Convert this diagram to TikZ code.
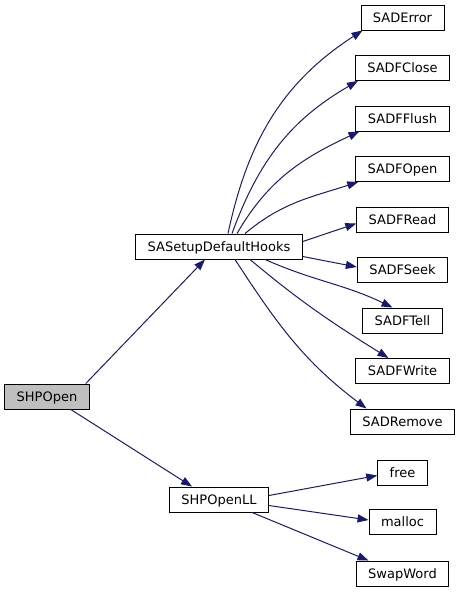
\documentclass[tikz,border=0pt]{standalone}
\usepackage{fontspec}
\setmainfont{DejaVu Sans}
\usetikzlibrary{arrows.meta}
\definecolor{edgeblue}{HTML}{191970}
\definecolor{rootgray}{HTML}{BFBFBF}
\tikzset{
  fn/.style={draw=black, line width=0.9pt, fill=white, inner xsep=12pt, inner ysep=0pt,
    minimum height=25pt, text height=9.5pt, text depth=0pt, font=\fontsize{13}{15}\selectfont},
  call/.style={draw=edgeblue, line width=1pt, -{Triangle[length=11pt,width=8pt]}}
}
\begin{document}
\begin{tikzpicture}[x=1pt,y=1pt]
\useasboundingbox (0,0) rectangle (460,-595);
\node[fn, fill=rootgray] (open) at (47,-396.5) {SHPOpen};
\node[fn] (setup) at (219,-246.5) {SASetupDefaultHooks};
\node[fn] (openll) at (219,-499.5) {SHPOpenLL};
\node[fn] (error) at (402.5,-17.5) {SADError};
\node[fn] (close) at (402.5,-68) {SADFClose};
\node[fn] (flush) at (402.5,-118.5) {SADFFlush};
\node[fn] (fopen) at (402.5,-169) {SADFOpen};
\node[fn] (read) at (402.5,-219.5) {SADFRead};
\node[fn] (seek) at (402.5,-270) {SADFSeek};
\node[fn] (tell) at (402.5,-320.5) {SADFTell};
\node[fn] (write) at (402.5,-371) {SADFWrite};
\node[fn] (remove) at (402.5,-421.5) {SADRemove};
\node[fn] (free) at (402.5,-472.5) {free};
\node[fn] (malloc) at (402.5,-522) {malloc};
\node[fn] (swap) at (402.5,-573.5) {SwapWord};
\draw[call] ([xshift=-4pt]open.north east) -- ([xshift=-14pt]setup.south);
\draw[call] ([xshift=-19pt]open.south east) -- ([xshift=-27pt]openll.north);
\draw[call] ([xshift=9pt]setup.north) to[out=78,in=213] ([xshift=2pt]error.south west);
\draw[call] ([xshift=13pt]setup.north) to[out=70,in=210] ([xshift=3pt]close.south west);
\draw[call] ([xshift=18pt]setup.north) to[out=60,in=205] ([xshift=4pt]flush.south west);
\draw[call] ([xshift=26pt]setup.north) to[out=40,in=198] ([xshift=3pt]fopen.south west);
\draw[call] ([yshift=5pt]setup.east) -- ([yshift=-4pt]read.west);
\draw[call] ([yshift=-10pt]setup.east) -- ([yshift=3pt]seek.west);
\draw[call] ([xshift=46pt]setup.south) to[out=-24,in=154] ([xshift=-10pt]tell.north);
\draw[call] ([xshift=31pt]setup.south) to[out=-40,in=148] ([xshift=-14pt]write.north);
\draw[call] ([xshift=16pt]setup.south) to[out=-57,in=143] ([xshift=-36pt]remove.north);
\draw[call] ([yshift=4pt]openll.east) -- ([yshift=-3pt]free.west);
\draw[call] ([yshift=-6pt]openll.east) -- ([yshift=2pt]malloc.west);
\draw[call] ([xshift=33pt]openll.south) -- ([xshift=-34pt]swap.north);
\end{tikzpicture}
\end{document}
